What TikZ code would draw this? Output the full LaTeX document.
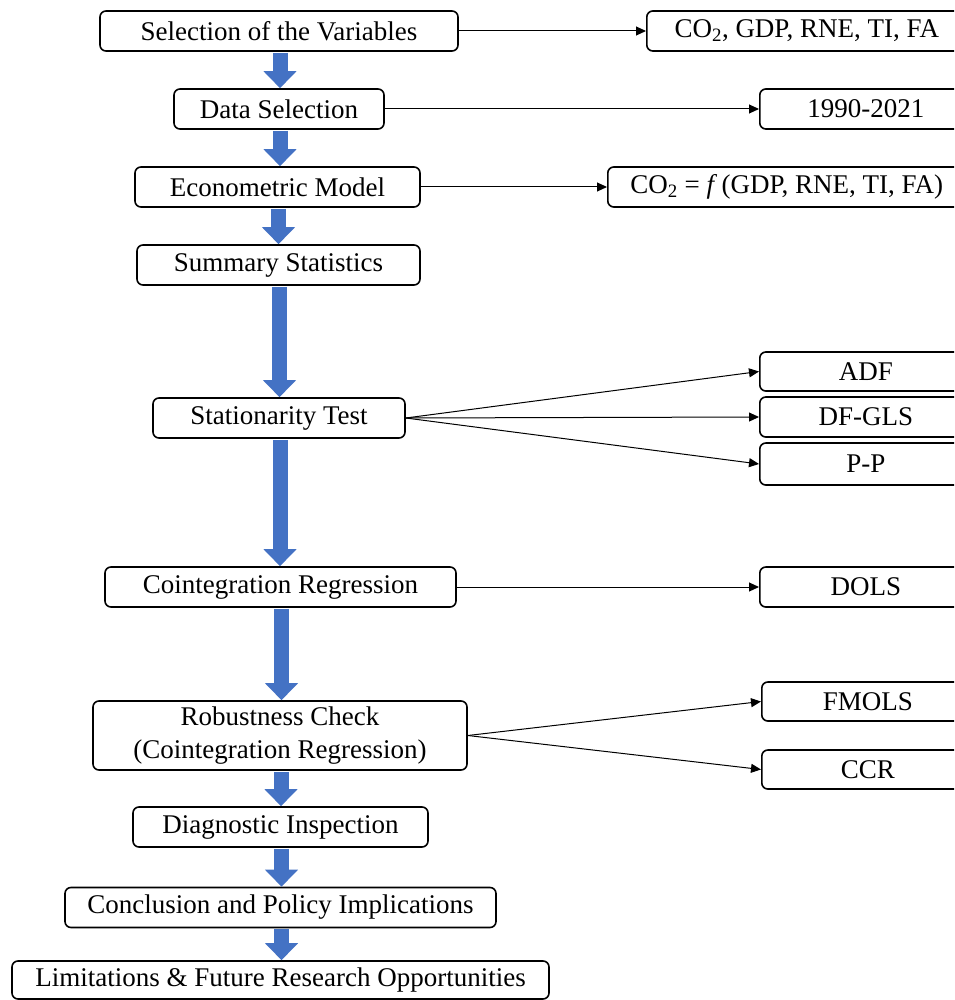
\documentclass[tikz,border=0pt]{standalone}
\usepackage{fontspec}
\setmainfont{Liberation Serif}
\usetikzlibrary{arrows.meta}
\definecolor{BlockBlue}{HTML}{4472C4}
\tikzset{
	StepBox/.style={draw,rounded corners=6pt,line width=1.6pt,minimum height=40pt,
		inner sep=0pt,align=center,font=\fontsize{27}{33}\selectfont},
	OutBox/.style={StepBox,anchor=west,minimum width=212pt},
	BlockArrow/.style={BlockBlue,line width=15pt,shorten <=1pt,-{Triangle[width=32pt,length=17pt]}},
	ThinArrow/.style={line width=1pt,-{Triangle[length=10pt,width=9pt]}}
}
\begin{document}
\begin{tikzpicture}[x=1pt,y=-1pt]
	\useasboundingbox (0,0) rectangle (954,1000);
	\clip (0,0) rectangle (954,1000);
	% steps of the study
	\node[StepBox,minimum width=358pt] (SelVar)    at (279,31)    {Selection of the Variables};
	\node[StepBox,minimum width=210pt] (DataSel)   at (279,109)   {Data Selection};
	\node[StepBox,minimum width=285pt] (EconModel) at (277.5,187) {Econometric Model};
	\node[StepBox,minimum width=283pt] (SumStat)   at (278.5,265) {Summary Statistics};
	\node[StepBox,minimum width=252pt] (StatTest)  at (279,418)   {Stationarity Test};
	\node[StepBox,minimum width=351pt] (CointReg)  at (280.5,587) {Cointegration Regression};
	\node[StepBox,minimum width=374pt,minimum height=69pt] (RobCheck) at (280,735.5)
		{Robustness Check\\(Cointegration Regression)};
	\node[StepBox,minimum width=295pt] (DiagInsp)  at (280.5,827) {Diagnostic Inspection};
	\node[StepBox,minimum width=431pt] (ConcPol)   at (280.5,907.5) {Conclusion and Policy Implications};
	\node[StepBox,minimum width=537pt,minimum height=38pt] (LimFut) at (280.5,980)
		{Limitations \& Future Research Opportunities};

	% outcomes on the right
	\node[OutBox,minimum width=320pt] (VarList) at (646,31)  {CO\textsubscript{2}, GDP, RNE, TI, FA};
	\node[OutBox] (Period)  at (759,109) {1990-2021};
	\node[OutBox,minimum width=358pt] (ModelEq) at (607,187)
		{CO\textsubscript{2} = \textit{f}\,(GDP, RNE, TI, FA)};
	\node[OutBox,minimum height=39pt] (ADF)   at (759,371.5) {ADF};
	\node[OutBox] (DFGLS) at (759,417)   {DF-GLS};
	\node[OutBox,minimum height=42pt] (PP)    at (759,464)   {P-P};
	\node[OutBox] (DOLS)  at (759,587)   {DOLS};
	\node[OutBox,minimum height=39pt] (FMOLS) at (761,701.5) {FMOLS};
	\node[OutBox,minimum height=39pt] (CCR)   at (761,769.5) {CCR};

	% block arrows down the middle
	\foreach \a/\b in {SelVar/DataSel,DataSel/EconModel,EconModel/SumStat,SumStat/StatTest,
		StatTest/CointReg,CointReg/RobCheck,RobCheck/DiagInsp,DiagInsp/ConcPol,ConcPol/LimFut}
		\draw[BlockArrow] ([xshift=1pt]\a.south) -- ([xshift=1pt]\a.south |- \b.north);

	% thin connectors
	\draw[ThinArrow] (SelVar.east) -- (VarList.west);
	\draw[ThinArrow] (DataSel.east) -- (Period.west);
	\draw[ThinArrow] (EconModel.east) -- (ModelEq.west);
	\draw[ThinArrow] (StatTest.east) -- (ADF.west);
	\draw[ThinArrow] (StatTest.east) -- (DFGLS.west);
	\draw[ThinArrow] (StatTest.east) -- (PP.west);
	\draw[ThinArrow] (CointReg.east) -- (DOLS.west);
	\draw[ThinArrow] (RobCheck.east) -- (FMOLS.west);
	\draw[ThinArrow] (RobCheck.east) -- (CCR.west);
\end{tikzpicture}
\end{document}
